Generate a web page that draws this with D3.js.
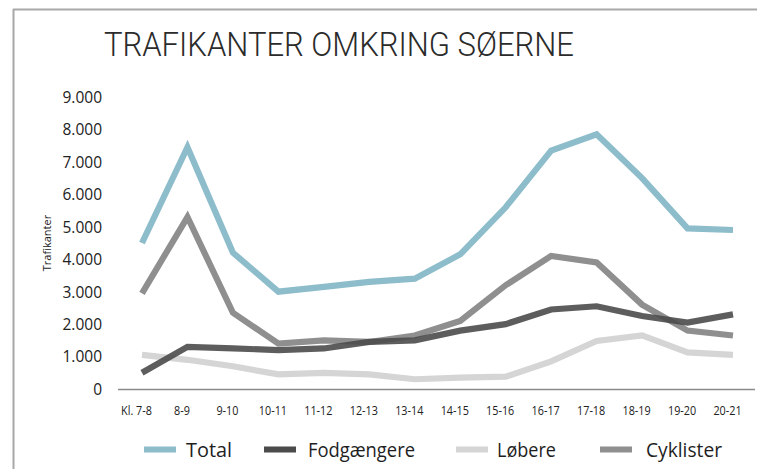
<!DOCTYPE html>
<html>
<head>
<meta charset="utf-8">
<script src="https://cdn.jsdelivr.net/npm/d3@7"></script>
<style>
  html, body { margin: 0; padding: 0; background: #fff; }
  svg { display: block; }
</style>
</head>
<body>
<svg id="chart" width="757" height="469"></svg>
<script>
const categories = ["Kl. 7-8","8-9","9-10","10-11","11-12","12-13","13-14","14-15","15-16","16-17","17-18","18-19","19-20","20-21"];
const total       = [4500, 7450, 4200, 3000, 3150, 3300, 3400, 4150, 5600, 7350, 7850, 6500, 4950, 4900];
const fodgaengere = [ 500, 1300, 1250, 1200, 1250, 1450, 1500, 1800, 2000, 2450, 2550, 2250, 2050, 2300];
const lobere      = [1050,  900,  700,  450,  500,  450,  300,  350,  380,  850, 1480, 1650, 1130, 1050];
const cyklister   = [2950, 5300, 2350, 1400, 1500, 1450, 1650, 2100, 3200, 4100, 3900, 2600, 1800, 1650];
const yTicks = [0, 1000, 2000, 3000, 4000, 5000, 6000, 7000, 8000, 9000];
const seriesNames = ["Total", "Fodgængere", "Løbere", "Cyklister"];
const seriesValues = [total, fodgaengere, lobere, cyklister];
const seriesColors = ["#8dbccb", "#4b4b4b", "#d5d5d5", "#8f8f8f"];

const svg = d3.select("#chart");
const x = d3.scalePoint().domain(categories).range([142, 733]);
const y = d3.scaleLinear().domain([0, 9000]).range([389, 97]);

// frame
svg.append("line").attr("x1", 13).attr("x2", 757).attr("y1", 9.5).attr("y2", 9.5)
  .attr("stroke", "#a8a8a8").attr("stroke-width", 2);
svg.append("line").attr("x1", 13.5).attr("x2", 13.5).attr("y1", 9).attr("y2", 469)
  .attr("stroke", "#a8a8a8").attr("stroke-width", 2);

// title
svg.append("text").attr("x", 104).attr("y", 56)
  .attr("font-family", "Roboto, 'Open Sans', sans-serif").attr("font-weight", 300)
  .attr("font-size", 33).attr("fill", "#2b2b2b")
  .attr("textLength", 470).attr("lengthAdjust", "spacingAndGlyphs")
  .text("TRAFIKANTER OMKRING SØERNE");

// y axis
const yAxis = svg.append("g").attr("transform", "translate(102,0)")
  .call(d3.axisLeft(y).tickValues(yTicks).tickSize(0).tickPadding(0)
    .tickFormat(d => d3.format(",")(d).replace(/,/g, ".")));
yAxis.select(".domain").remove();
yAxis.selectAll("text").attr("font-family", "'Open Sans', sans-serif")
  .attr("font-size", 15.5).attr("fill", "#222").attr("dy", "0.35em");

// y title
svg.append("text").attr("transform", "translate(51,243) rotate(-90)")
  .attr("text-anchor", "middle").attr("font-family", "'Open Sans', sans-serif")
  .attr("font-size", 11).attr("fill", "#222").text("Trafikanter");

// x axis line
svg.append("line").attr("x1", 118).attr("x2", 755).attr("y1", 389.5).attr("y2", 389.5)
  .attr("stroke", "#8a8a8a").attr("stroke-width", 1.5);

const xAxis = svg.append("g").attr("transform", "translate(-6,389)")
  .call(d3.axisBottom(x).tickSize(0).tickPadding(0));
xAxis.select(".domain").remove();
xAxis.selectAll("text").attr("font-family", "'Open Sans', sans-serif")
  .attr("font-size", 12).attr("fill", "#222").attr("dy", "0").attr("y", 26)
  .attr("transform", "scale(1,1)")
  .each(function() {
    const t = d3.select(this);
    const w = this.getComputedTextLength();
    t.attr("textLength", w * 0.9).attr("lengthAdjust", "spacingAndGlyphs");
  });

// lines
const line = d3.line().x((d, i) => x(categories[i])).y(d => y(d)).curve(d3.curveLinear);
const drawOrder = [2, 3, 1, 0];
drawOrder.forEach(k => {
  svg.append("path").datum(seriesValues[k]).attr("d", line)
    .attr("fill", "none").attr("stroke", seriesColors[k]).attr("stroke-width", 6.2)
    .attr("stroke-linejoin", "miter").attr("stroke-linecap", "butt")
    .attr("opacity", k === 1 ? 0.9 : 1);
});

// legend
const swatchX = [144, 264, 456, 600];
const textX = [186, 308, 497, 646];
const textW = [46, 107, 59, 76];
seriesNames.forEach((name, i) => {
  svg.append("rect").attr("x", swatchX[i]).attr("y", 446.5).attr("width", 32).attr("height", 6)
    .attr("fill", seriesColors[i]);
  svg.append("text").attr("x", textX[i]).attr("y", 457)
    .attr("font-family", "'Open Sans', sans-serif")
    .attr("font-size", 20.5).attr("fill", "#1e1e1e")
    .attr("textLength", textW[i]).attr("lengthAdjust", "spacingAndGlyphs")
    .text(name);
});
</script>
</body>
</html>
